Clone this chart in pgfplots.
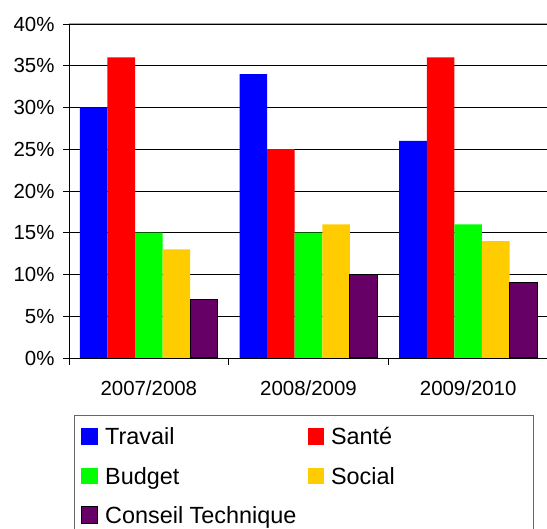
\documentclass[border=0pt]{standalone}
\usepackage{fontspec}
\setmainfont{Liberation Sans}
\usepackage{pgfplots}
\pgfplotsset{compat=1.18}

\definecolor{cTravail}{HTML}{0000FF}
\definecolor{cSante}{HTML}{FF0000}
\definecolor{cBudget}{HTML}{00FF00}
\definecolor{cSocial}{HTML}{FFCC00}
\definecolor{cConseil}{HTML}{660066}

% fixed row height for legend lines
\newcommand\lstrut{\rule[-11.8bp]{0pt}{39.2bp}}

\begin{document}
\begin{tikzpicture}[x=1bp,y=1bp]
\clip (0,0) rectangle (547,529);
\begin{axis}[
  at={(69bp,171bp)}, anchor=south west,
  width=479bp, height=334bp, scale only axis,
  ymin=0, ymax=40, xmin=-0.5, xmax=2.5,
  ybar=0pt, bar width=27.6bp,
  axis x line*=bottom, axis y line*=left,
  axis line style={black, line width=0.8bp, -},
  tick align=outside,
  ytick={0,5,...,40},
  major tick length=6bp,
  tick style={black, line width=0.8bp},
  yticklabel={\pgfmathprintnumber{\tick}\%},
  /pgf/number format/assume math mode=true,
  ymajorgrids, grid style={black, line width=0.7bp},
  xtick={0,1,2}, xticklabels={2007/2008,2008/2009,2009/2010},
  x tick style={draw=none},
  extra x ticks={-0.5,0.5,1.5,2.5},
  extra x tick labels={},
  extra x tick style={x tick style={draw=black, line width=0.8bp}, major tick length=7bp, grid=none},
  ticklabel style={font=\fontsize{20.5}{24}\selectfont},
  xticklabel style={yshift=-13bp},
  yticklabel style={xshift=-5bp},
  legend columns=2,
  legend cell align=left,
  legend style={at={(axis description cs:0.0244,-0.1784)}, anchor=north west,
    draw=none, fill=none, inner sep=0pt, outer sep=0pt,
    font=\fontsize{23.5}{28}\selectfont,
    column sep=7bp, row sep=10.2bp,
    nodes={inner sep=0pt, outer sep=0pt, anchor=base west},
    /tikz/every even column/.append style={column sep=11bp}},
  legend image code/.code={\path[#1] (0bp,0bp) rectangle (16.5bp,16.5bp);},
]
\addplot[fill=cTravail, draw=none] coordinates {(0,30) (1,34) (2,26)};
\addplot[fill=cSante, draw=none] coordinates {(0,36) (1,25) (2,36)};
\addplot[fill=cBudget, draw=none] coordinates {(0,15) (1,15) (2,16)};
\addplot[fill=cSocial, draw=none] coordinates {(0,13) (1,16) (2,14)};
\addplot[fill=cConseil, draw=black, line width=1bp] coordinates {(0,7) (1,10) (2,9)};
\addlegendentry{\lstrut Travail}
\addlegendentry{\lstrut Santé}
\addlegendentry{\lstrut Budget}
\addlegendentry{\lstrut Social}
\addlegendentry{\lstrut Conseil Technique}
% plot-area border on top
\draw[gray!70, line width=1bp] (rel axis cs:0,1) -- (rel axis cs:1,1);
\end{axis}
% legend frame
\draw[gray!80!black, line width=0.8bp] (74,114) rectangle (533,-5);
\end{tikzpicture}
\end{document}
